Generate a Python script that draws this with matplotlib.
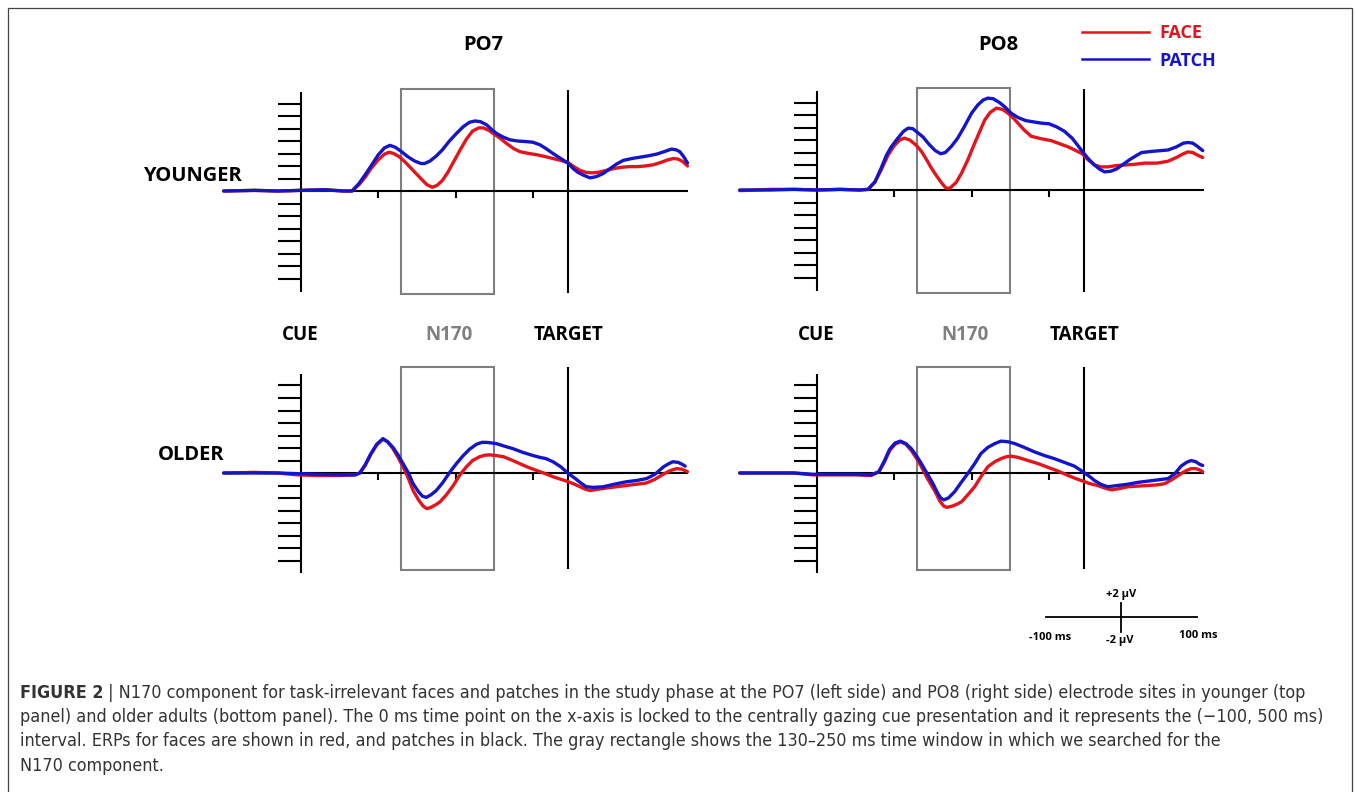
import matplotlib
matplotlib.use("Agg")
import matplotlib.pyplot as plt
from matplotlib.patches import Rectangle
import numpy as np

W, H, DPI = 1356, 792, 100

# ---------------- data (ms, µV) ----------------
yl_face_t = [-100,-60,-30,0,30,55,66,75,83,90,100,108,114,120,127,135,145,155,163,170,176,183,190,198,206,214,222,230,236,243,250,258,266,275,283,295,305,316,326,336,346,353,361,368,376,385,395,405,415,425,435,445,456,466,475,482,488,494,500]
yl_face_v = [0,0.1,0.0,0.1,0.2,0.0,0.0,1.0,2.2,3.5,5.0,5.9,6.2,6.0,5.5,4.6,3.3,2.0,1.0,0.6,0.9,1.7,3.0,4.8,6.6,8.3,9.6,10.1,10.1,9.7,9.1,8.4,7.6,6.8,6.3,6.0,5.8,5.5,5.2,4.9,4.5,3.9,3.3,3.0,2.9,3.0,3.3,3.6,3.8,3.9,3.9,4.0,4.2,4.6,5.0,5.2,5.1,4.7,4.0]

yl_patch_t = [-100,-60,-30,0,30,55,66,75,83,90,100,108,115,122,130,138,147,155,160,167,175,183,192,201,210,218,225,232,240,247,253,262,270,280,292,300,309,318,326,336,346,352,358,366,374,382,391,400,408,417,428,438,448,460,470,479,485,490,495,500]
yl_patch_v = [0,0.1,0.0,0.1,0.2,0.0,0.0,1.2,2.6,3.9,5.8,6.9,7.3,7.0,6.3,5.5,4.8,4.4,4.4,4.8,5.6,6.6,8.0,9.2,10.3,11.0,11.2,11.1,10.6,9.8,9.2,8.6,8.2,8.0,7.9,7.8,7.4,6.7,6.0,5.2,4.4,3.6,3.0,2.5,2.1,2.3,2.8,3.6,4.3,4.9,5.2,5.4,5.6,5.9,6.3,6.7,6.6,6.3,5.5,4.5]

yr_face_t = [-100,-60,-30,0,30,55,66,75,83,92,100,107,113,120,128,135,142,148,155,162,167,172,180,187,195,204,211,217,224,232,240,247,254,260,268,277,290,303,314,325,335,343,351,359,367,376,387,398,410,424,440,454,465,474,480,486,492,499]
yr_face_v = [-0.1,0.1,0.1,0.0,0.1,0.0,0.1,1.3,3.2,5.6,7.1,8.0,8.3,8.0,7.2,6.2,4.8,3.5,2.2,1.0,0.3,0.3,1.2,2.7,4.8,7.5,9.5,11.2,12.4,13.1,12.9,12.3,11.5,10.7,9.6,8.6,8.2,7.9,7.4,6.9,6.3,5.8,4.8,4.0,3.7,3.7,3.9,4.0,4.1,4.3,4.3,4.6,5.2,5.8,6.1,6.0,5.6,5.2]

yr_patch_t = [-100,-60,-30,0,30,55,66,75,83,90,96,104,112,118,124,130,137,145,153,160,166,174,182,190,200,208,215,221,228,236,243,251,260,270,280,290,300,310,320,330,337,343,351,359,366,372,380,388,396,405,413,420,435,454,465,474,480,486,492,499]
yr_patch_v = [0,0.0,0.1,0.0,0.1,0.0,0.1,1.3,3.5,5.6,6.9,8.2,9.4,9.9,9.8,9.2,8.5,7.3,6.3,5.8,6.0,7.0,8.3,10.0,12.3,13.6,14.4,14.7,14.6,14.0,13.3,12.3,11.6,11.1,10.9,10.7,10.6,10.1,9.4,8.3,7.2,6.2,5.0,4.0,3.3,2.9,3.0,3.4,4.1,4.9,5.5,6.0,6.2,6.4,6.9,7.5,7.6,7.5,7.0,6.3]

ol_face_t = [-100,-60,-30,-5,20,50,70,76,83,90,98,106,112,119,126,132,139,145,152,158,163,168,174,180,188,197,205,214,222,231,238,244,252,262,272,283,294,305,316,326,336,346,354,361,368,374,384,395,408,421,434,447,458,470,478,486,493,500]
ol_face_v = [0.0,0.1,0.0,-0.3,-0.4,-0.4,-0.3,0.0,1.2,2.9,4.5,5.4,5.0,3.9,2.4,1.0,-0.9,-2.8,-4.3,-5.3,-5.7,-5.5,-5.1,-4.6,-3.5,-2.0,-0.4,1.0,2.0,2.6,2.85,2.9,2.8,2.6,2.1,1.5,0.9,0.4,-0.1,-0.6,-1.0,-1.4,-1.8,-2.2,-2.6,-2.8,-2.6,-2.4,-2.2,-2.0,-1.8,-1.6,-1.0,-0.1,0.4,0.7,0.6,0.2]

ol_patch_t = [-100,-60,-30,-5,20,50,70,76,83,90,98,106,112,119,126,132,139,145,152,157,162,168,175,183,193,201,210,218,227,234,240,247,253,263,274,287,300,309,317,326,336,346,355,362,369,378,391,405,421,434,447,458,469,476,481,488,493,497]
ol_patch_v = [0.0,0.0,0.0,-0.1,-0.2,-0.3,-0.3,0.0,1.3,3.0,4.6,5.5,5.0,4.1,2.8,1.5,0.0,-1.7,-3.0,-3.7,-3.9,-3.5,-2.8,-1.6,0.2,1.5,2.8,3.8,4.6,4.9,4.9,4.8,4.7,4.3,3.9,3.3,2.8,2.5,2.3,1.8,1.0,-0.1,-0.9,-1.6,-2.2,-2.3,-2.2,-1.8,-1.4,-1.2,-0.9,-0.2,1.0,1.5,1.8,1.7,1.4,1.1]

or_face_t = [-100,-60,-30,-5,20,50,70,80,87,94,101,108,115,122,129,135,143,152,159,164,168,175,181,187,195,204,212,221,230,238,245,251,260,273,286,299,312,325,335,344,353,363,372,381,391,402,415,428,440,450,460,471,478,484,490,495,499]
or_face_v = [0.0,0.0,0.0,-0.3,-0.3,-0.3,-0.4,0.2,1.7,3.6,4.6,5.0,4.6,3.6,2.3,1.0,-0.9,-2.8,-4.5,-5.3,-5.5,-5.3,-5.0,-4.6,-3.5,-2.2,-0.6,1.0,1.8,2.3,2.6,2.7,2.5,2.0,1.5,0.9,0.3,-0.4,-0.9,-1.3,-1.7,-2.0,-2.4,-2.7,-2.5,-2.2,-2.1,-2.0,-1.9,-1.7,-1.0,-0.1,0.4,0.7,0.7,0.5,0.2]

or_patch_t = [-100,-60,-30,-5,20,50,70,80,87,94,101,108,115,122,129,135,143,150,156,160,164,170,178,186,195,204,212,221,230,238,247,256,268,281,294,307,320,333,344,352,359,367,376,389,402,415,428,441,454,463,471,478,484,490,495,499]
or_patch_v = [0.0,0.0,0.0,-0.2,-0.2,-0.2,-0.3,0.2,1.9,3.8,4.8,5.1,4.7,3.9,2.7,1.5,-0.2,-1.7,-3.2,-4.0,-4.3,-4.0,-3.0,-1.6,-0.1,1.5,3.1,4.1,4.7,5.1,5.0,4.7,4.1,3.4,2.8,2.3,1.7,1.1,0.2,-0.5,-1.2,-1.8,-2.2,-2.0,-1.8,-1.5,-1.3,-1.1,-0.9,-0.1,1.1,1.7,2.0,1.8,1.4,1.2]

electrodes = ["PO7", "PO8"]
groups = ["YOUNGER", "OLDER"]
legend_labels = ["FACE", "PATCH"]
yticks_uv = [-14, -12, -10, -8, -6, -4, -2, 2, 4, 6, 8, 10, 12, 14]
xticks_ms = [100, 200, 300]
n170_window = (130, 250)
target_ms = 345

caption_lines = [
    "N170 component for task-irrelevant faces and patches in the study phase at the PO7 (left side) and PO8 (right side) electrode sites in younger (top",
    "panel) and older adults (bottom panel). The 0 ms time point on the x-axis is locked to the centrally gazing cue presentation and it represents the (\u2212100, 500 ms)",
    "interval. ERPs for faces are shown in red, and patches in black. The gray rectangle shows the 130\u2013250 ms time window in which we searched for the",
    "N170 component.",
]

RED = "#e3141c"
BLUE = "#1414c8"
GRAY = "#7f7f7f"
LBL = "Open Sans"

fig = plt.figure(figsize=(W / DPI, H / DPI), dpi=DPI)
fig.patch.set_facecolor("white")

def fx(px):
    return px / W

def fy(py):
    return 1 - py / H

PXMS = 0.773   # px per ms
PXUV = 6.25    # px per µV
XL, XR = -110, 510
YB, YT = -17.5, 17.5

panels = [
    (301, 191, (yl_face_t, yl_face_v), (yl_patch_t, yl_patch_v), (15.8, -16.2), (16.3, -16.4)),
    (817, 190, (yr_face_t, yr_face_v), (yr_patch_t, yr_patch_v), (15.8, -16.2), (16.3, -16.4)),
    (301, 473, (ol_face_t, ol_face_v), (ol_patch_t, ol_patch_v), (15.8, -16.0), (17.0, -15.5)),
    (817, 473, (or_face_t, or_face_v), (or_patch_t, or_patch_v), (15.8, -16.0), (17.0, -15.5)),
]

for x0, y0, face, patch, (atop, abot), (rtop, rbot) in panels:
    left = x0 + XL * PXMS
    width = (XR - XL) * PXMS
    top = y0 - YT * PXUV
    height = (YT - YB) * PXUV
    ax = fig.add_axes([fx(left), fy(top + height), width / W, height / H])
    ax.set_xlim(XL, XR)
    ax.set_ylim(YB, YT)
    ax.axis("off")
    ax.plot([0, 0], [abot, atop], color="black", lw=1.5, solid_capstyle="butt")
    for yv in yticks_uv:
        ax.plot([-30, 0], [yv, yv], color="black", lw=1.5, solid_capstyle="butt")
    ax.plot([0, 500], [0, 0], color="black", lw=1.5, solid_capstyle="butt")
    for xv in xticks_ms:
        ax.plot([xv, xv], [0, -1.1], color="black", lw=1.5, solid_capstyle="butt")
    ax.plot([target_ms, target_ms], [rbot + 0.1, rtop - 0.1], color="black", lw=1.5, solid_capstyle="butt")
    ax.add_patch(Rectangle((n170_window[0], rbot), n170_window[1] - n170_window[0], rtop - rbot,
                           fill=False, edgecolor=GRAY, lw=1.5))
    ax.plot(face[0], face[1], color=RED, lw=2.4, solid_joinstyle="round", solid_capstyle="round")
    ax.plot(patch[0], patch[1], color=BLUE, lw=2.4, solid_joinstyle="round", solid_capstyle="round")

tkw = dict(fontfamily=LBL, fontweight="bold", ha="center", va="baseline")
fig.text(fx(483), fy(50), electrodes[0], fontsize=14.5, **tkw)
fig.text(fx(998), fy(50), electrodes[1], fontsize=14.5, **tkw)
fig.text(fx(192), fy(181), groups[0], fontsize=14.5, **tkw)
fig.text(fx(191), fy(460), groups[1], fontsize=14.5, **tkw)
for dx in (0, 516):
    fig.text(fx(300 + dx), fy(340), "CUE", fontsize=13.5, **tkw)
    fig.text(fx(449 + dx), fy(340), "N170", fontsize=13.5, color=GRAY, **tkw)
    fig.text(fx(569 + dx), fy(340), "TARGET", fontsize=13.5, **tkw)

fig.add_artist(plt.Line2D([fx(1082), fx(1149)], [fy(32), fy(32)], color=RED, lw=1.8))
fig.add_artist(plt.Line2D([fx(1082), fx(1149)], [fy(59), fy(59)], color=BLUE, lw=1.8))
fig.text(fx(1159), fy(38), legend_labels[0], fontsize=13, color=RED, fontfamily=LBL,
         fontweight="bold", ha="left", va="baseline")
fig.text(fx(1159), fy(66), legend_labels[1], fontsize=13, color=BLUE, fontfamily=LBL,
         fontweight="bold", ha="left", va="baseline")

fig.add_artist(plt.Line2D([fx(1046), fx(1197)], [fy(617), fy(617)], color="black", lw=1.3))
fig.add_artist(plt.Line2D([fx(1121), fx(1121)], [fy(603), fy(632)], color="black", lw=1.3))
skw = dict(fontfamily=LBL, fontweight="bold", fontsize=8, ha="center", va="baseline")
fig.text(fx(1121), fy(597), "+2 \u00b5V", **skw)
fig.text(fx(1120), fy(643), "-2 \u00b5V", **skw)
fig.text(fx(1050), fy(640), "-100 ms", **skw)
fig.text(fx(1198), fy(638), "100 ms", **skw)

fig.add_artist(Rectangle((fx(8), fy(800)), fx(1352) - fx(8), fy(8) - fy(800),
                         transform=fig.transFigure, fill=False, edgecolor="#444444", lw=0.9))

# caption: fit line 1 to the reference width (x 20 -> 1305)
CAP = "DejaVu Sans"
cap_col = "#333333"
bases = [698, 722, 746, 771]
r = fig.canvas.get_renderer()

def measure(fs):
    a = fig.text(0, 0, "FIGURE 2", fontsize=fs, fontweight="bold", fontfamily=CAP, fontstretch="condensed")
    b = fig.text(0, 0, " | " + caption_lines[0], fontsize=fs, fontfamily=CAP, fontstretch="condensed")
    wa = a.get_window_extent(renderer=r).width
    wb = b.get_window_extent(renderer=r).width
    a.remove(); b.remove()
    return wa + wb

cap_fs = 12 * 1285 / measure(12)
t0 = fig.text(fx(20), fy(bases[0]), "FIGURE 2", fontsize=cap_fs, fontweight="bold",
              fontfamily=CAP, fontstretch="condensed", color=cap_col, ha="left", va="baseline")
bb = t0.get_window_extent(renderer=r)
fig.text(bb.x1 / W, fy(bases[0]), " | " + caption_lines[0], fontsize=cap_fs,
         fontfamily=CAP, fontstretch="condensed", color=cap_col, ha="left", va="baseline")
for line, b in zip(caption_lines[1:], bases[1:]):
    fig.text(fx(20), fy(b), line, fontsize=cap_fs, fontfamily=CAP, fontstretch="condensed",
             color=cap_col, ha="left", va="baseline")

fig.savefig("out.png", dpi=DPI)
